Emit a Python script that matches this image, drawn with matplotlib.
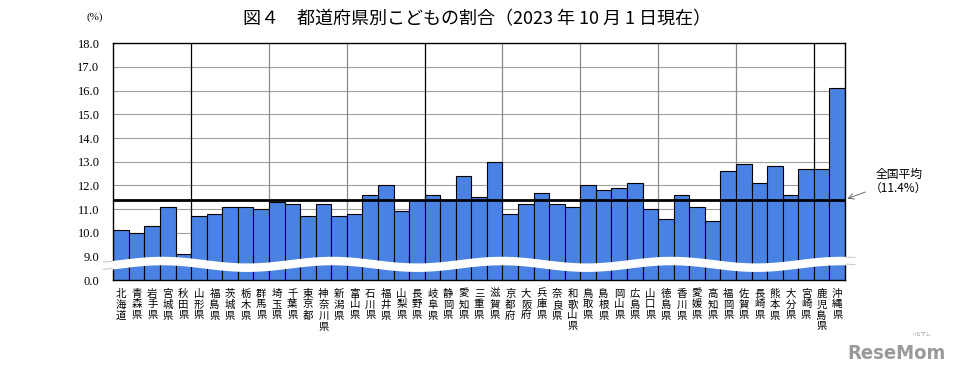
import numpy as np
import matplotlib
matplotlib.use('Agg')
import matplotlib.pyplot as plt

plt.rcParams['font.family'] = ['Noto Sans CJK JP', 'DejaVu Sans']

# data
prefectures = ['北海道', '青森県', '岩手県', '宮城県', '秋田県', '山形県', '福島県',
               '茨城県', '栃木県', '群馬県', '埼玉県', '千葉県', '東京都', '神奈川県',
               '新潟県', '富山県', '石川県', '福井県', '山梨県', '長野県', '岐阜県',
               '静岡県', '愛知県', '三重県', '滋賀県', '京都府', '大阪府', '兵庫県',
               '奈良県', '和歌山県', '鳥取県', '島根県', '岡山県', '広島県', '山口県',
               '徳島県', '香川県', '愛媛県', '高知県', '福岡県', '佐賀県', '長崎県',
               '熊本県', '大分県', '宮崎県', '鹿児島県', '沖縄県']
child_share = [10.1, 10.0, 10.3, 11.1, 9.1, 10.7, 10.8, 11.1, 11.1, 11.0,
               11.3, 11.2, 10.7, 11.2, 10.7, 10.8, 11.6, 12.0, 10.9, 11.4,
               11.6, 11.4, 12.4, 11.5, 13.0, 10.8, 11.2, 11.7, 11.2, 11.1,
               12.0, 11.8, 11.9, 12.1, 11.0, 10.6, 11.6, 11.1, 10.5, 12.6,
               12.9, 12.1, 12.8, 11.6, 12.7, 12.7, 16.1]
national_avg = 11.4
ytick_values = [9, 10, 11, 12, 13, 14, 15, 16, 17, 18]

fig = plt.figure(figsize=(9.58, 3.74), dpi=100)
ax = fig.add_axes([0.1183, 0.2508, 0.7637, 0.6335])

x = np.arange(len(prefectures))
ax.bar(x, child_share, width=1.0, color='#4a82e3', edgecolor='black',
       linewidth=0.8, zorder=2)

# broken axis: 0.0 is drawn one step below 9.0
ax.set_ylim(8, 18)
ax.set_xlim(-0.5, len(prefectures) - 0.5)
ax.set_yticks([8] + ytick_values)
ax.set_yticklabels(['0.0'] + ['%.1f' % v for v in ytick_values],
                   family=['Liberation Serif', 'DejaVu Serif'], fontsize=9)
ax.set_xticks(x)
ax.set_xticklabels(['\n'.join(p) for p in prefectures], fontsize=7.5,
                   linespacing=1.12, va='top')
ax.tick_params(length=0)
ax.tick_params(axis='y', pad=10)
ax.tick_params(axis='x', pad=6)

ax.set_axisbelow(True)
ax.grid(axis='y', color='#a0a0a0', linewidth=0.8)
for i in range(5, len(prefectures), 5):
    c = 'black' if i in (5, 20, 45) else '#8a8a8a'
    ax.axvline(i - 0.5, color=c, linewidth=0.9, zorder=1)

for s in ax.spines.values():
    s.set_color('black')
    s.set_linewidth(1.0)

ax.axhline(national_avg, color='black', linewidth=2.0, zorder=4)

# white wavy band marking the axis break
xw = np.linspace(-1.15, len(prefectures) + 0.15, 500)
mid = 8.69 + 0.14 * np.cos(2 * np.pi * (xw - 2.63) / 10.9)
ax.fill_between(xw, mid - 0.15, mid + 0.15, color='white', zorder=3, clip_on=False)
out = (xw < -0.5) | (xw > len(prefectures) - 0.5)
for sgn in (-1, 1):
    ax.plot(np.where(out, xw, np.nan), mid + sgn * 0.15, color='#bdbdbd',
            linewidth=0.6, zorder=3, clip_on=False)

ax.annotate('', xy=(len(prefectures) - 0.5, national_avg), xycoords='data',
            xytext=(868 / 958, 1 - 191 / 374), textcoords='figure fraction',
            arrowprops=dict(arrowstyle='->', color='#555555', lw=0.6))
fig.text(870 / 958, 1 - 181 / 374, '全国平均\n（11.4%）', ha='left', va='center',
         fontsize=8.5, linespacing=1.1, multialignment='center')

fig.text(0.498, 1 - 19 / 374, '図４　都道府県別こどもの割合（2023 年 10 月 1 日現在）',
         ha='center', va='center', fontsize=13)
fig.text(95 / 958, 1 - 17 / 374, '(%)', ha='center', va='center', fontsize=8,
         family=['Liberation Serif', 'DejaVu Serif'])

# site watermark
fig.text(0.987, 0.03, 'ReseMom', ha='right', va='bottom', color='#9a9a9a',
         fontsize=14.5, weight='bold', stretch='condensed',
         family=['DejaVu Sans'])
fig.text(0.962, 0.1, 'リセマム', ha='center', va='bottom', color='#9a9a9a', fontsize=3.5)

fig.savefig('out.png', dpi=100)
